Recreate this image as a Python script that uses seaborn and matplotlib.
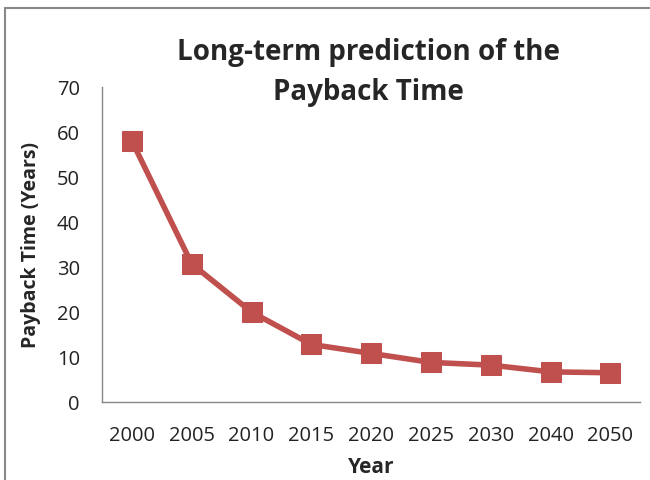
import pandas as pd
import matplotlib
matplotlib.use('Agg')
import matplotlib.pyplot as plt
import seaborn as sns
from matplotlib.patches import Rectangle

# data
years = ['2000', '2005', '2010', '2015', '2020', '2025', '2030', '2040', '2050']
payback = [58.0, 30.7, 20.0, 12.8, 10.8, 8.8, 8.2, 6.7, 6.5]

df = pd.DataFrame({'pos': range(len(years)), 'payback': payback})

sns.set_style('white')
plt.rcParams['font.family'] = ['Open Sans', 'DejaVu Sans']

fig = plt.figure(figsize=(6.5, 4.8), dpi=100)
ax = fig.add_axes([0.157, 0.1625, 0.828, 0.656])

sns.lineplot(data=df, x='pos', y='payback', ax=ax,
             color='#C0504D', linewidth=4,
             marker='s', markersize=15, markeredgecolor='#C0504D')

ax.set_xlim(-0.5, len(years) - 0.5)
ax.set_ylim(0, 70)
ax.set_yticks(range(0, 71, 10))
ax.set_xticks(range(len(years)))
ax.set_xticklabels(years)
ax.set_xticks([i - 0.5 for i in range(len(years) + 1)], minor=True)
ax.tick_params(axis='x', which='major', length=0, labelsize=14.5, pad=17, colors='#222222')
ax.tick_params(axis='x', which='minor', length=6, width=1, color='#888888', direction='out')
ax.tick_params(axis='y', length=6, width=1, color='#888888', direction='out',
               labelsize=14.5, labelcolor='#222222', pad=10)

for side in ['top', 'right']:
    ax.spines[side].set_visible(False)
for side in ['left', 'bottom']:
    ax.spines[side].set_color('#888888')
    ax.spines[side].set_linewidth(1)

ax.set_xlabel('Year', fontsize=15, fontweight='bold', labelpad=8)
ax.set_ylabel('Payback Time (Years)', fontsize=14, fontweight='bold', labelpad=11)
fig.text(0.567, 0.848, 'Long-term prediction of the\nPayback Time', ha='center', va='center',
         fontsize=20, fontweight='bold', linespacing=1.5)

# chart area border
fig.patches.append(Rectangle((0.008, -0.05), 1.2, 1.033, transform=fig.transFigure,
                             fill=False, edgecolor='#888888', linewidth=1.5))

fig.savefig('out.png', dpi=100)
